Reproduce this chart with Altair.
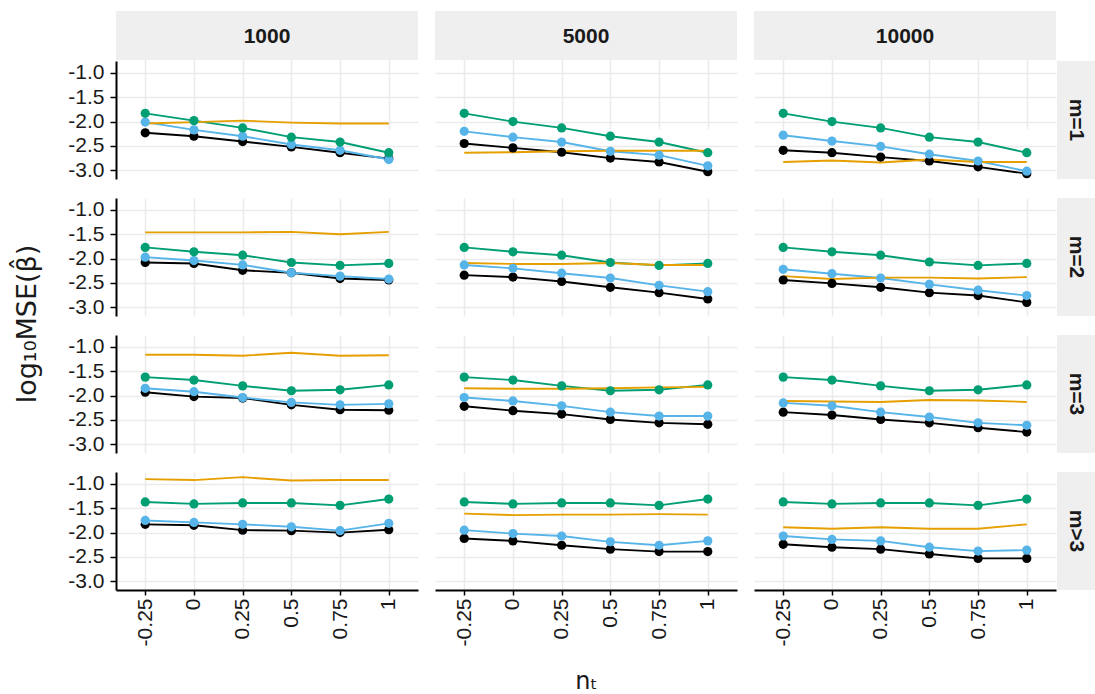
import altair as alt
import pandas as pd

# ---------------- data ----------------
x_labels = ["-0.25", "0", "0.25", "0.5", "0.75", "1"]
n_labels = ["1000", "5000", "10000"]
m_labels = ["m=1", "m=2", "m=3", "m>3"]
series_names = ["black", "blue", "green", "orange"]
series_colors = ["#000000", "#56B4E9", "#009E73", "#E69F00"]

# each list: rows m=1, m=2, m=3, m>3 ; columns = x_labels
black_1000 = [[-2.23, -2.30, -2.41, -2.52, -2.64, -2.76],
              [-2.08, -2.10, -2.24, -2.29, -2.41, -2.44],
              [-1.93, -2.02, -2.05, -2.19, -2.29, -2.30],
              [-1.83, -1.85, -1.95, -1.96, -2.00, -1.94]]
black_5000 = [[-2.45, -2.54, -2.63, -2.75, -2.83, -3.03],
              [-2.34, -2.38, -2.47, -2.59, -2.70, -2.83],
              [-2.22, -2.31, -2.38, -2.49, -2.56, -2.59],
              [-2.12, -2.17, -2.26, -2.34, -2.39, -2.39]]
black_10000 = [[-2.59, -2.64, -2.73, -2.81, -2.93, -3.07],
               [-2.44, -2.51, -2.59, -2.70, -2.76, -2.90],
               [-2.34, -2.40, -2.49, -2.56, -2.66, -2.75],
               [-2.24, -2.30, -2.34, -2.44, -2.53, -2.53]]

blue_1000 = [[-2.01, -2.17, -2.30, -2.47, -2.59, -2.78],
             [-1.97, -2.04, -2.13, -2.29, -2.36, -2.42],
             [-1.85, -1.92, -2.04, -2.14, -2.19, -2.17],
             [-1.75, -1.79, -1.83, -1.88, -1.96, -1.81]]
blue_5000 = [[-2.20, -2.32, -2.42, -2.61, -2.69, -2.91],
             [-2.13, -2.20, -2.30, -2.40, -2.55, -2.68],
             [-2.04, -2.11, -2.21, -2.34, -2.42, -2.42],
             [-1.95, -2.02, -2.07, -2.19, -2.26, -2.17]]
blue_10000 = [[-2.28, -2.40, -2.51, -2.67, -2.81, -3.02],
              [-2.22, -2.31, -2.40, -2.53, -2.65, -2.76],
              [-2.15, -2.21, -2.34, -2.44, -2.56, -2.61],
              [-2.07, -2.14, -2.17, -2.30, -2.38, -2.36]]

green_1000 = [[-1.83, -1.98, -2.13, -2.32, -2.42, -2.64],
              [-1.77, -1.86, -1.93, -2.08, -2.14, -2.10],
              [-1.62, -1.68, -1.80, -1.90, -1.88, -1.78],
              [-1.37, -1.41, -1.39, -1.39, -1.44, -1.31]]
green_5000 = [[-1.83, -2.00, -2.13, -2.30, -2.42, -2.64],
              [-1.77, -1.86, -1.93, -2.08, -2.14, -2.10],
              [-1.62, -1.68, -1.80, -1.90, -1.88, -1.78],
              [-1.37, -1.41, -1.39, -1.39, -1.44, -1.31]]
green_10000 = [[-1.83, -2.00, -2.13, -2.32, -2.42, -2.64],
               [-1.77, -1.86, -1.93, -2.07, -2.14, -2.10],
               [-1.62, -1.68, -1.80, -1.90, -1.88, -1.78],
               [-1.37, -1.41, -1.39, -1.39, -1.44, -1.31]]

orange_1000 = [[-2.04, -2.01, -1.98, -2.02, -2.04, -2.04],
               [-1.46, -1.46, -1.46, -1.45, -1.50, -1.45],
               [-1.16, -1.16, -1.18, -1.12, -1.18, -1.17],
               [-0.90, -0.92, -0.86, -0.93, -0.92, -0.92]]
orange_5000 = [[-2.64, -2.63, -2.61, -2.60, -2.60, -2.60],
               [-2.09, -2.11, -2.11, -2.09, -2.13, -2.13],
               [-1.85, -1.86, -1.86, -1.85, -1.83, -1.82],
               [-1.61, -1.64, -1.63, -1.63, -1.62, -1.63]]
orange_10000 = [[-2.83, -2.80, -2.84, -2.78, -2.83, -2.83],
                [-2.36, -2.42, -2.39, -2.39, -2.41, -2.38],
                [-2.11, -2.12, -2.13, -2.09, -2.10, -2.13],
                [-1.89, -1.92, -1.89, -1.92, -1.92, -1.83]]

y_ticks = [-3.0, -2.5, -2.0, -1.5, -1.0]

tables = {
    "black": {"1000": black_1000, "5000": black_5000, "10000": black_10000},
    "blue": {"1000": blue_1000, "5000": blue_5000, "10000": blue_10000},
    "green": {"1000": green_1000, "5000": green_5000, "10000": green_10000},
    "orange": {"1000": orange_1000, "5000": orange_5000, "10000": orange_10000},
}

rows = []
for s in series_names:
    for n in n_labels:
        for mi, m in enumerate(m_labels):
            for xi, xl in enumerate(x_labels):
                rows.append({"series": s, "n": n, "m": m, "x": xl, "xi": xi,
                             "value": tables[s][n][mi][xi]})
df = pd.DataFrame(rows)

# ---------------- layout constants ----------------
FONT = "Liberation Sans"
PW, PH = 302, 118          # plot area
HH = 50                    # header strip block (incl. gap)
SW = 39                    # right strip block (incl. gap)
VSP = 17                   # vertical spacing between panel rows
Y_DOMAIN = [-3.18, -0.754]
GRID = "#EBEBEB"
STRIP = "#EFEFEF"
TXT = "#1a1a1a"
LAB = 21

color_scale = alt.Scale(domain=series_names, range=series_colors)


def panel(ni, mi):
    n = n_labels[ni]
    m = m_labels[mi]
    top = mi == 0
    right = ni == 2
    bottom = mi == 3
    left = ni == 0
    w = PW + (SW if right else 0)
    h = PH + (HH if top else 0)
    y0 = HH if top else 0

    if bottom:
        xaxis = alt.Axis(labelAngle=270, labelFontSize=LAB, labelFont=FONT, labelColor=TXT,
                         labelPadding=3, ticks=True, tickSize=5, tickWidth=1.5, tickColor="black",
                         domain=True, domainColor="black", domainWidth=2,
                         grid=True, gridColor=GRID, gridWidth=1.5,
                         title=("n\u209c" if ni == 1 else None), titleFontSize=24,
                         titleFont="DejaVu Sans", titleFontWeight="normal", titleColor=TXT,
                         titlePadding=24)
    else:
        xaxis = alt.Axis(labels=False, ticks=False, domain=False, title=None,
                         grid=True, gridColor=GRID, gridWidth=1.5)
    if left:
        yaxis = alt.Axis(values=y_ticks, labelExpr="replace(format(datum.value, '.1f'), '\u2212', '-')",
                         labelFontSize=LAB, labelFont=FONT, labelColor=TXT, labelPadding=6,
                         ticks=True, tickSize=6, tickWidth=1.5, tickColor="black",
                         domain=True, domainColor="black", domainWidth=2,
                         grid=True, gridColor=GRID, gridWidth=1.5, title=None)
    else:
        yaxis = alt.Axis(values=y_ticks, labels=False, ticks=False, domain=False, title=None,
                         grid=True, gridColor=GRID, gridWidth=1.5)

    xenc = alt.X("x:O", sort=x_labels,
                 scale=alt.Scale(type="point", padding=0.6, range=[0, PW]), axis=xaxis)
    yenc = alt.Y("value:Q", scale=alt.Scale(domain=Y_DOMAIN, range=[y0 + PH, y0], nice=False, zero=False),
                 axis=yaxis)

    base = alt.Chart(df).transform_filter((alt.datum.n == n) & (alt.datum.m == m))
    lines = base.mark_line(strokeWidth=1.9).encode(
        x=xenc, y=yenc,
        color=alt.Color("series:N", scale=color_scale, legend=None),
        order=alt.Order("xi:Q"),
    )
    points = base.transform_filter(alt.datum.series != "orange").mark_circle(size=85, opacity=1).encode(
        x=xenc, y=yenc,
        color=alt.Color("series:N", scale=color_scale, legend=None),
    )
    layers = [lines, points]

    if top:
        hd = alt.Chart(pd.DataFrame({"t": [n]}))
        layers.append(hd.mark_rect(color=STRIP).encode(
            x=alt.value(0), x2=alt.value(PW), y=alt.value(0), y2=alt.value(HH - 1)))
        layers.append(hd.mark_text(fontSize=LAB, fontWeight="bold", font=FONT, color=TXT,
                                   baseline="middle", align="center").encode(
            x=alt.value(PW / 2), y=alt.value((HH - 1) / 2 + 1), text="t:N"))
    if right:
        sd = alt.Chart(pd.DataFrame({"t": [m]}))
        layers.append(sd.mark_rect(color=STRIP).encode(
            x=alt.value(PW + 1), x2=alt.value(PW + SW), y=alt.value(y0), y2=alt.value(y0 + PH)))
        layers.append(sd.mark_text(fontSize=LAB, fontWeight="bold", font=FONT, color=TXT, angle=90,
                                   baseline="middle", align="center").encode(
            x=alt.value(PW + 1 + (SW - 1) / 2), y=alt.value(y0 + PH / 2), text="t:N"))

    return alt.layer(*layers).properties(width=w, height=h)


grid_rows = []
for mi in range(4):
    grid_rows.append(alt.hconcat(*[panel(ni, mi) for ni in range(3)], spacing=17))
grid = alt.vconcat(*grid_rows, spacing=VSP)

total_h = HH + 4 * PH + 3 * VSP
ytitle = alt.Chart(pd.DataFrame({"t": ["log\u2081\u2080MSE(\u03b2\u0302)"]})).mark_text(
    angle=270, fontSize=27, font="DejaVu Sans", color=TXT, baseline="middle", align="center"
).encode(x=alt.value(28), y=alt.value(313), text="t:N").properties(width=50, height=total_h)

chart = alt.hconcat(ytitle, grid, spacing=17).properties(
    padding={"left": 0, "top": 11, "right": 0, "bottom": 0}
).configure(background="white").configure_view(strokeWidth=0, stroke="transparent")

chart.save("out.html", embed_options={"renderer": "svg", "actions": False})
